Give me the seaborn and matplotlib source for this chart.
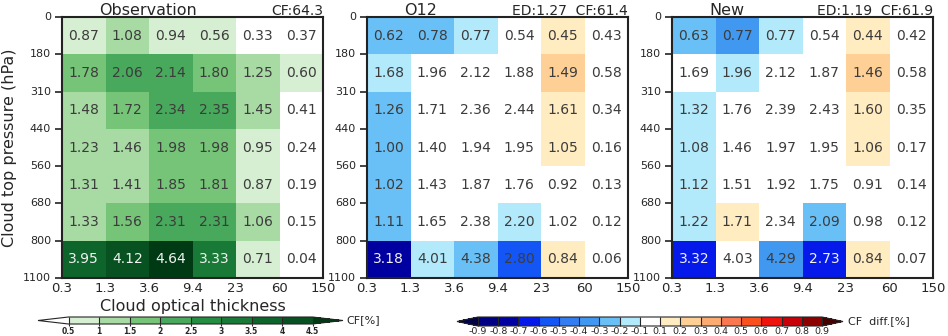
import numpy as np
import matplotlib
matplotlib.use("Agg")
import matplotlib.pyplot as plt
import seaborn as sns
from matplotlib.colors import ListedColormap, BoundaryNorm
import matplotlib.cm as cm

# ---------------- data ----------------
tau_labels = ["0.3", "1.3", "3.6", "9.4", "23", "60", "150"]
pc_labels = ["0", "180", "310", "440", "560", "680", "800", "1100"]

obs = [
    [0.87, 1.08, 0.94, 0.56, 0.33, 0.37],
    [1.78, 2.06, 2.14, 1.80, 1.25, 0.60],
    [1.48, 1.72, 2.34, 2.35, 1.45, 0.41],
    [1.23, 1.46, 1.98, 1.98, 0.95, 0.24],
    [1.31, 1.41, 1.85, 1.81, 0.87, 0.19],
    [1.33, 1.56, 2.31, 2.31, 1.06, 0.15],
    [3.95, 4.12, 4.64, 3.33, 0.71, 0.04],
]
o12 = [
    [0.62, 0.78, 0.77, 0.54, 0.45, 0.43],
    [1.68, 1.96, 2.12, 1.88, 1.49, 0.58],
    [1.26, 1.71, 2.36, 2.44, 1.61, 0.34],
    [1.00, 1.40, 1.94, 1.95, 1.05, 0.16],
    [1.02, 1.43, 1.87, 1.76, 0.92, 0.13],
    [1.11, 1.65, 2.38, 2.20, 1.02, 0.12],
    [3.18, 4.01, 4.38, 2.80, 0.84, 0.06],
]
new = [
    [0.63, 0.77, 0.77, 0.54, 0.44, 0.42],
    [1.69, 1.96, 2.12, 1.87, 1.46, 0.58],
    [1.32, 1.76, 2.39, 2.43, 1.60, 0.35],
    [1.08, 1.46, 1.97, 1.95, 1.06, 0.17],
    [1.12, 1.51, 1.92, 1.75, 0.91, 0.14],
    [1.22, 1.71, 2.34, 2.09, 0.98, 0.12],
    [3.32, 4.03, 4.29, 2.73, 0.84, 0.07],
]
# model minus observation (unrounded differences, as read from the shading)
o12_diff = [
    [-0.25, -0.29, -0.17, -0.02, 0.12, 0.06],
    [-0.11, -0.09, -0.02, 0.08, 0.24, -0.02],
    [-0.22, -0.01, 0.02, 0.09, 0.16, -0.07],
    [-0.23, -0.06, -0.04, -0.03, 0.11, -0.08],
    [-0.29, 0.02, 0.02, -0.05, 0.05, -0.06],
    [-0.22, 0.09, 0.07, -0.11, -0.04, -0.03],
    [-0.77, -0.11, -0.26, -0.53, 0.13, 0.02],
]
new_diff = [
    [-0.24, -0.31, -0.17, -0.02, 0.11, 0.05],
    [-0.09, -0.11, -0.02, 0.07, 0.21, -0.02],
    [-0.16, 0.04, 0.05, 0.08, 0.15, -0.06],
    [-0.15, 0.00, -0.01, -0.03, 0.11, -0.07],
    [-0.19, 0.09, 0.07, -0.06, 0.04, -0.05],
    [-0.11, 0.15, 0.03, -0.22, -0.08, -0.03],
    [-0.63, -0.09, -0.35, -0.61, 0.13, 0.03],
]
titles = ["Observation", "O12", "New"]
stats = ["CF:64.3", "ED:1.27  CF:61.4", "ED:1.19  CF:61.9"]

cf_levels = [0.5, 1, 1.5, 2, 2.5, 3, 3.5, 4, 4.5]
cf_ticklabels = ["0.5", "1", "1.5", "2", "2.5", "3", "3.5", "4", "4.5"]
diff_levels = [-0.9, -0.8, -0.7, -0.6, -0.5, -0.4, -0.3, -0.2, -0.1,
               0.1, 0.2, 0.3, 0.4, 0.5, 0.6, 0.7, 0.8, 0.9]
diff_ticklabels = ["-0.9", "-0.8", "-0.7", "-0.6", "-0.5", "-0.4", "-0.3", "-0.2", "-0.1",
                   "0.1", "0.2", "0.3", "0.4", "0.5", "0.6", "0.7", "0.8", "0.9"]

# ---------------- colours ----------------
def rgb(*c):
    return tuple(v / 255 for v in c)

green_cols = [rgb(255, 255, 255),
              rgb(214, 238, 210), rgb(168, 218, 164), rgb(118, 196, 120),
              rgb(72, 168, 92), rgb(35, 141, 66), rgb(24, 122, 54),
              rgb(14, 101, 44), rgb(8, 82, 34), rgb(0, 58, 20)]
green_cmap = ListedColormap(green_cols[1:-1])
green_cmap.set_under(green_cols[0])
green_cmap.set_over(green_cols[-1])
green_norm = BoundaryNorm(cf_levels, green_cmap.N)

diff_cols = [rgb(2, 2, 70),
             rgb(0, 0, 130), rgb(0, 0, 160), rgb(5, 25, 235), rgb(20, 85, 245),
             rgb(50, 125, 242), rgb(65, 152, 240), rgb(105, 192, 247), rgb(178, 234, 252),
             rgb(255, 255, 255),
             rgb(255, 236, 192), rgb(254, 208, 150), rgb(252, 172, 112), rgb(250, 120, 80),
             rgb(250, 80, 30), rgb(240, 18, 12), rgb(200, 0, 10), rgb(140, 0, 0),
             rgb(70, 0, 0)]
diff_cmap = ListedColormap(diff_cols[1:-1])
diff_cmap.set_under(diff_cols[0])
diff_cmap.set_over(diff_cols[-1])
diff_norm = BoundaryNorm(diff_levels, diff_cmap.N)

# ---------------- figure ----------------
sns.set_style("white")
plt.rcParams["font.family"] = ["DejaVu Sans"]
W, H = 948, 336
fig = plt.figure(figsize=(W / 100, H / 100), dpi=100)

lefts = [62, 367, 672]
values = [np.array(obs), np.array(o12), np.array(new)]
shades = [np.array(obs), np.array(o12_diff), np.array(new_diff)]
for k in range(3):
    ax = fig.add_axes([lefts[k] / W, (H - 278) / H, 261 / W, 261 / H])
    vals, data = values[k], shades[k]
    cmap, norm = (green_cmap, green_norm) if k == 0 else (diff_cmap, diff_norm)
    sns.heatmap(data, ax=ax, cmap=cmap, norm=norm, cbar=False,
                annot=vals, fmt=".2f",
                annot_kws={"fontsize": 10, "color": "#3c3c3c"})
    for t, v, d in zip(ax.texts, vals.ravel(), data.ravel()):
        if (k == 0 and v >= 3.0) or (k > 0 and d <= -0.6):
            t.set_color("#f2f2f2")
        else:
            t.set_color("#3c3c3c")
    ax.set_xticks(range(7))
    ax.set_xticklabels(tau_labels, rotation=0, fontsize=9.5)
    ax.set_yticks(range(8))
    ax.set_yticklabels(pc_labels, rotation=0, fontsize=8)
    ax.tick_params(axis="x", direction="in", length=4, width=1.2, bottom=True,
                   pad=3, color="#222222")
    ax.tick_params(axis="y", direction="out", length=5, width=1.2, left=True,
                   pad=3, color="#222222")
    for s in ax.spines.values():
        s.set_visible(True)
        s.set_linewidth(1.5)
        s.set_color("#222222")
    ax.text(37 / 261, 1 + 2 / 261, titles[k], transform=ax.transAxes, ha="left",
            va="baseline", fontsize=11.5)
    ax.text(1.0, 1 + 2 / 261, stats[k], transform=ax.transAxes, ha="right",
            va="baseline", fontsize=10)
    if k == 0:
        ax.set_xlabel("Cloud optical thickness", fontsize=11.5, labelpad=3)
        ax.set_ylabel("Cloud top pressure (hPa)", fontsize=11.5, labelpad=4)

# ---------------- colorbars ----------------
cax1 = fig.add_axes([38 / W, (H - 324) / H, (343 - 38) / W, 7 / H])
sm1 = cm.ScalarMappable(norm=green_norm, cmap=green_cmap)
cb1 = fig.colorbar(sm1, cax=cax1, orientation="horizontal", extend="both",
                   extendfrac=0.125, ticks=cf_levels, drawedges=True)
cb1.set_ticklabels(cf_ticklabels)
cb1.ax.tick_params(labelsize=5.5, length=1.5, pad=0.3, width=0.8)
for lab in cb1.ax.get_xticklabels():
    lab.set_fontweight("bold")
cb1.outline.set_linewidth(0.8)
cb1.dividers.set_linewidth(0.8)
fig.text(346 / W, (H - 320) / H, "CF[%]", fontsize=8, va="center", ha="left")

cax2 = fig.add_axes([457 / W, (H - 326) / H, (843 - 457) / W, 9 / H])
sm2 = cm.ScalarMappable(norm=diff_norm, cmap=diff_cmap)
cb2 = fig.colorbar(sm2, cax=cax2, orientation="horizontal", extend="both",
                   extendfrac=0.061, ticks=diff_levels, drawedges=True)
cb2.set_ticklabels(diff_ticklabels)
cb2.ax.tick_params(labelsize=6.8, length=0, pad=0.5)
cb2.outline.set_linewidth(0.8)
cb2.dividers.set_linewidth(0.8)
fig.text(848 / W, (H - 321) / H, "CF  diff.[%]", fontsize=8, va="center", ha="left")

fig.savefig("out.png", dpi=100)
